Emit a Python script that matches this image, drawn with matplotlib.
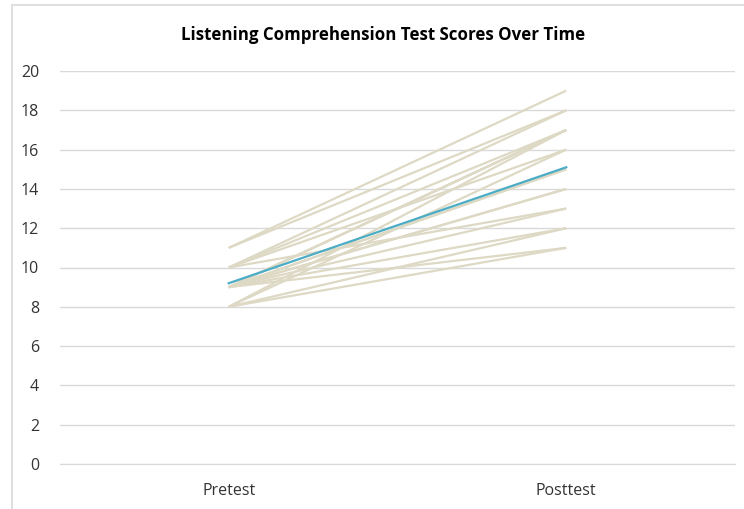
import matplotlib.pyplot as plt
from matplotlib.patches import Rectangle

# Listening comprehension scores, one pair per student
tests = ["Pretest", "Posttest"]
pretest = [11, 11, 10, 10, 10, 9, 9, 9, 9, 9, 9, 10, 9, 9, 8, 8, 9, 9, 8, 8]
posttest = [19, 18, 18, 17, 16, 17, 17, 17, 15, 14, 14, 13, 12, 11, 17, 16, 15, 13, 12, 11]

mean_pre = sum(pretest) / len(pretest)
mean_post = sum(posttest) / len(posttest)

fig = plt.figure(figsize=(7.44, 5.09), dpi=100)
plt.rcParams['font.family'] = ['Open Sans', 'DejaVu Sans']

# chart border like the spreadsheet frame
fig.patches.append(Rectangle((12 / 744, -0.01), 1.0, 1 - 5 / 509 + 0.01,
                             transform=fig.transFigure, fill=False,
                             edgecolor="#d9d9d9", linewidth=1.2))

ax = fig.add_axes([60 / 744, 1 - 464 / 509, 675 / 744, 393 / 509])

x = list(range(len(tests)))
for a, b in zip(pretest, posttest):
    ax.plot(x, [a, b], color="#ddd9c4", linewidth=1.6, solid_capstyle="butt")
ax.plot(x, [mean_pre, mean_post], color="#4bacc6", linewidth=1.6)

ax.set_xlim(-0.5, 1.5)
ax.set_ylim(0, 20)
ax.set_yticks(range(0, 21, 2))
ax.set_xticks(x)
ax.set_xticklabels(tests)
ax.tick_params(length=0, labelsize=11.5, colors="#333333")
ax.tick_params(axis="y", pad=15)
ax.tick_params(axis="x", pad=14)
ax.grid(axis="y", color="#d9d9d9", linewidth=1)
ax.set_axisbelow(True)
for s in ["top", "right", "left"]:
    ax.spines[s].set_visible(False)
ax.spines["bottom"].set_color("#d9d9d9")

fig.text(383 / 744, 1 - 35 / 509, "Listening Comprehension Test Scores Over Time",
         ha="center", va="center", fontsize=12.2, fontweight="bold", color="#000000")

fig.savefig("out.png", dpi=100)
